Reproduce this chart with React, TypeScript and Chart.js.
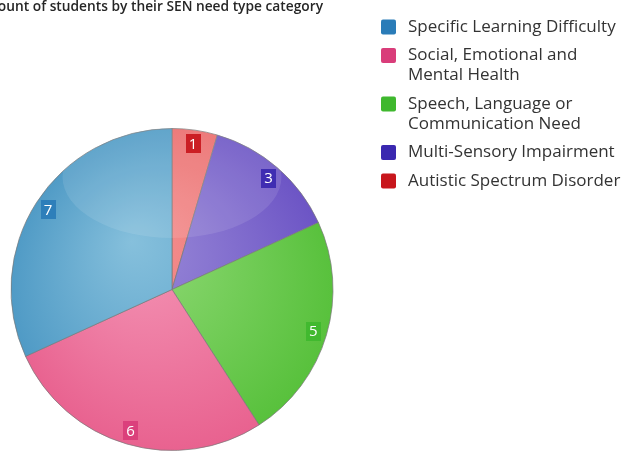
import { useEffect, useRef } from "react";
import { Chart, registerables } from "chart.js";
Chart.register(...registerables);

const titleText = "Count of students by their SEN need type category";
const categories = [
  "Specific Learning Difficulty",
  "Social, Emotional and Mental Health",
  "Speech, Language or Communication Need",
  "Multi-Sensory Impairment",
  "Autistic Spectrum Disorder",
];
const legendLines = [
  ["Specific Learning Difficulty"],
  ["Social, Emotional and", "Mental Health"],
  ["Speech, Language or", "Communication Need"],
  ["Multi-Sensory Impairment"],
  ["Autistic Spectrum Disorder"],
];
const counts = [7, 6, 5, 3, 1];
const legendColors = ["#2a7cb8", "#d93d7a", "#3fb82e", "#3a28b0", "#c8161c"];
const sliceLight = ["#86c0dc", "#f496b6", "#92da78", "#9a8ad8", "#f49090"];
const sliceDark = ["#4c98c4", "#e8608e", "#56c03a", "#6a52c4", "#ea6a6a"];

// pie is drawn clockwise from the top in the reverse of the legend order
const order = [4, 3, 2, 1, 0];

const FONT = "'Open Sans', 'Noto Sans', sans-serif";

export default function App() {
  const ref = useRef<HTMLCanvasElement | null>(null);
  useEffect(() => {
    document.body.style.margin = "0";
    const canvas = ref.current!;
    const overlay = {
      id: "overlay",
      afterDatasetsDraw(chart: any) {
        const ctx = chart.ctx;
        const meta = chart.getDatasetMeta(0);
        const a0 = meta.data[0];
        if (!a0) return;
        const { x, y, outerRadius: R } = a0.getProps(["x", "y", "outerRadius"], true);
        // glossy highlight
        ctx.save();
        ctx.beginPath();
        ctx.arc(x, y, R, 0, Math.PI * 2);
        ctx.clip();
        ctx.beginPath();
        ctx.ellipse(x, y - R * 0.7, R * 0.68, R * 0.38, 0, 0, Math.PI * 2);
        ctx.fillStyle = "rgba(255,255,255,0.10)";
        ctx.fill();
        ctx.restore();
        // value labels
        ctx.save();
        ctx.font = `15px ${FONT}`;
        ctx.textAlign = "center";
        ctx.textBaseline = "middle";
        meta.data.forEach((arc: any, i: number) => {
          const p = arc.getProps(["x", "y", "startAngle", "endAngle", "outerRadius"], true);
          const mid = (p.startAngle + p.endAngle) / 2;
          const rr = p.outerRadius * 0.915;
          const lx = p.x + Math.cos(mid) * rr;
          const ly = p.y + Math.sin(mid) * rr;
          const idx = order[i];
          const txt = String(counts[idx]);
          const w = ctx.measureText(txt).width + 6;
          const h = 19;
          ctx.fillStyle = legendColors[idx];
          ctx.globalAlpha = 0.92;
          ctx.fillRect(Math.round(lx - w / 2), Math.round(ly - h / 2), Math.round(w), h);
          ctx.globalAlpha = 1;
          ctx.fillStyle = "#ffffff";
          ctx.fillText(txt, lx, ly + 1);
        });
        ctx.restore();
      },
      afterDraw(chart: any) {
        const ctx = chart.ctx;
        ctx.save();
        // title (left part cut off by the canvas edge)
        ctx.font = `600 13.75px ${FONT}`;
        ctx.fillStyle = "#262626";
        ctx.textAlign = "right";
        ctx.textBaseline = "middle";
        ctx.fillText(titleText, 323, 7);
        // legend
        ctx.font = `17px ${FONT}`;
        ctx.textAlign = "left";
        let yy = 27;
        legendLines.forEach((lines, i) => {
          ctx.fillStyle = legendColors[i];
          ctx.beginPath();
          (ctx as any).roundRect(381, yy - 7.5, 15, 15, 2);
          ctx.fill();
          ctx.fillStyle = "#333333";
          lines.forEach((ln, j) => {
            ctx.fillText(ln, 408, yy + j * 20);
          });
          yy += (lines.length - 1) * 20 + 28.5;
        });
        ctx.restore();
      },
    };

    const chart = new Chart(canvas, {
      type: "pie",
      data: {
        labels: order.map((i) => categories[i]),
        datasets: [
          {
            data: order.map((i) => counts[i]),
            backgroundColor: (c: any) => {
              const idx = order[c.dataIndex];
              const ca = c.chart.chartArea;
              if (!ca) return sliceLight[idx];
              const cx = (ca.left + ca.right) / 2;
              const cy = (ca.top + ca.bottom) / 2;
              const r = Math.min(ca.right - ca.left, ca.bottom - ca.top) / 2;
              const g = c.chart.ctx.createRadialGradient(cx - r * 0.25, cy - r * 0.3, 0, cx, cy, r * 1.05);
              g.addColorStop(0, sliceLight[idx]);
              g.addColorStop(1, sliceDark[idx]);
              return g;
            },
            borderColor: "rgba(120,120,120,0.7)",
            borderWidth: 1,
          },
        ],
      },
      options: {
        animation: false,
        responsive: false,
        maintainAspectRatio: false,
        layout: { padding: { left: 10, right: 291, top: 128, bottom: 0 } },
        plugins: {
          legend: { display: false },
          title: { display: false },
          tooltip: { enabled: false },
        },
      },
      plugins: [overlay],
    });
    return () => chart.destroy();
  }, []);
  return (
    <div style={{ position: "fixed", left: 0, top: 0, width: 625, height: 451, background: "#fff" }}>
      <canvas ref={ref} width={625} height={451} style={{ width: 625, height: 451, display: "block" }} />
    </div>
  );
}
